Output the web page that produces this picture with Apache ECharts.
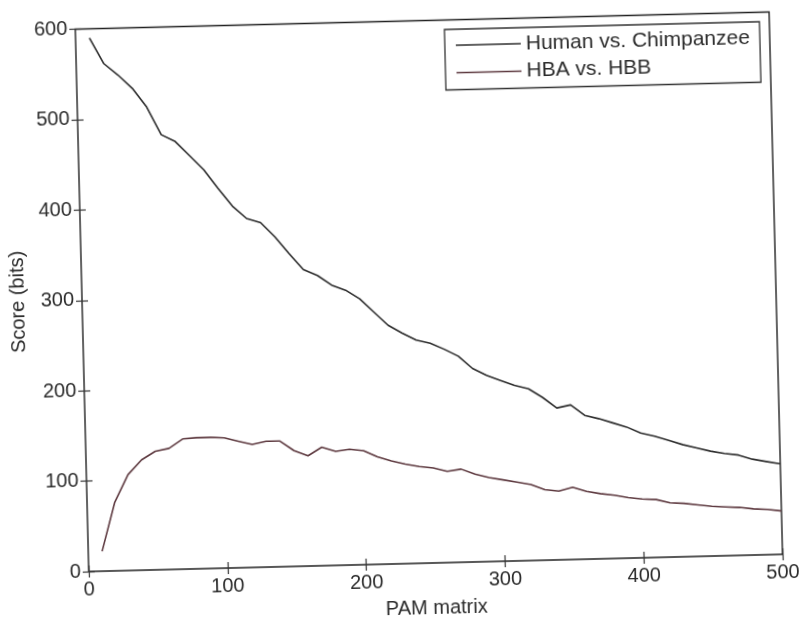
<!DOCTYPE html>
<html>
<head>
<meta charset="utf-8">
<script src="https://cdn.jsdelivr.net/npm/echarts@6/dist/echarts.min.js"></script>
<style>
html,body{margin:0;padding:0;background:#fff;overflow:hidden;}
#chart{width:803px;height:623px;transform:rotate(-1.42deg);transform-origin:429px 295px;}
</style>
</head>
<body>
<div id="chart"></div>
<script>
const pam = [10,20,30,40,50,60,70,80,90,100,110,120,130,140,150,160,170,180,190,200,210,220,230,240,250,260,270,280,290,300,310,320,330,340,350,360,370,380,390,400,410,420,430,440,450,460,470,480,490,500];
const humanChimp = [590,561,548,533,512,481,473,457,441,420,400,386,381,365,346,328,321,310,304,294,279,264,255,247,243,236,228,214,206,200,194,190,180,168,171,159,155,150,145,138,134,129,124,120,116,113,111,106,103,100];
const hbaHbb = [22,76,106,122,131,134,144,145,145,144,140,136,139,139,128,122,131,126,128,126,119,114,110,107,105,101,103,97,93,90,87,84,78,76,80,75,72,70,67,65,64,60,59,57,55,54,53,51,50,48];
const seriesNames = ['Human vs. Chimpanzee','HBA vs. HBB'];
const xTicks = [0,100,200,300,400,500];
const yTicks = [0,100,200,300,400,500,600];

const FONT = "'Liberation Sans', Arial, Helvetica, sans-serif";
const TXT = '#2b2b2b';
const chart = echarts.init(document.getElementById('chart'), null, {renderer:'canvas'});
const tick = {show:true, inside:true, length:6, lineStyle:{color:'#333', width:1.2}};
chart.setOption({
  animation:false,
  backgroundColor:'#fff',
  grid:{left:82, top:20.5, width:694, height:548.5, show:true, borderColor:'#222', borderWidth:1.4, backgroundColor:'transparent'},
  legend:{
    left:451, top:30, orient:'vertical',
    padding:[5,10,6,11], itemGap:5.5,
    itemWidth:65, itemHeight:1.7,
    backgroundColor:'#fff', borderColor:'#333', borderWidth:1.3, borderRadius:0,
    textStyle:{fontFamily:FONT, fontSize:21, color:TXT, lineHeight:22},
    data:[{name:seriesNames[0], icon:'rect'},{name:seriesNames[1], icon:'rect'}]
  },
  xAxis:[{
    type:'value', min:xTicks[0], max:xTicks[xTicks.length-1], interval:100, position:'bottom',
    name:'PAM matrix', nameLocation:'middle', nameGap:35,
    nameTextStyle:{fontFamily:FONT, fontSize:20, color:TXT},
    axisLine:{show:false}, axisTick:tick, splitLine:{show:false},
    axisLabel:{fontFamily:FONT, fontSize:20, color:TXT, margin:8}
  },{
    type:'value', min:xTicks[0], max:xTicks[xTicks.length-1], interval:100, position:'top',
    axisLine:{show:false}, axisTick:tick, splitLine:{show:false}, axisLabel:{show:false}
  }],
  yAxis:[{
    type:'value', min:yTicks[0], max:yTicks[yTicks.length-1], interval:100, position:'left',
    name:'Score (bits)', nameLocation:'middle', nameGap:54,
    nameTextStyle:{fontFamily:FONT, fontSize:20, color:TXT},
    axisLine:{show:false}, axisTick:tick, splitLine:{show:false},
    axisLabel:{fontFamily:FONT, fontSize:20, color:TXT, margin:8}
  },{
    type:'value', min:yTicks[0], max:yTicks[yTicks.length-1], interval:100, position:'right',
    axisLine:{show:false}, axisTick:tick, splitLine:{show:false}, axisLabel:{show:false}
  }],
  series:[{
    name:seriesNames[0], type:'line', showSymbol:false, symbol:'none',
    data:pam.map((p,i)=>[p,humanChimp[i]]),
    itemStyle:{color:'#2e2e2e'}, lineStyle:{color:'#2e2e2e', width:1.6}
  },{
    name:seriesNames[1], type:'line', showSymbol:false, symbol:'none',
    data:pam.map((p,i)=>[p,hbaHbb[i]]),
    itemStyle:{color:'#5e3a40'}, lineStyle:{color:'#5e3a40', width:1.6}
  }]
});
</script>
</body>
</html>
